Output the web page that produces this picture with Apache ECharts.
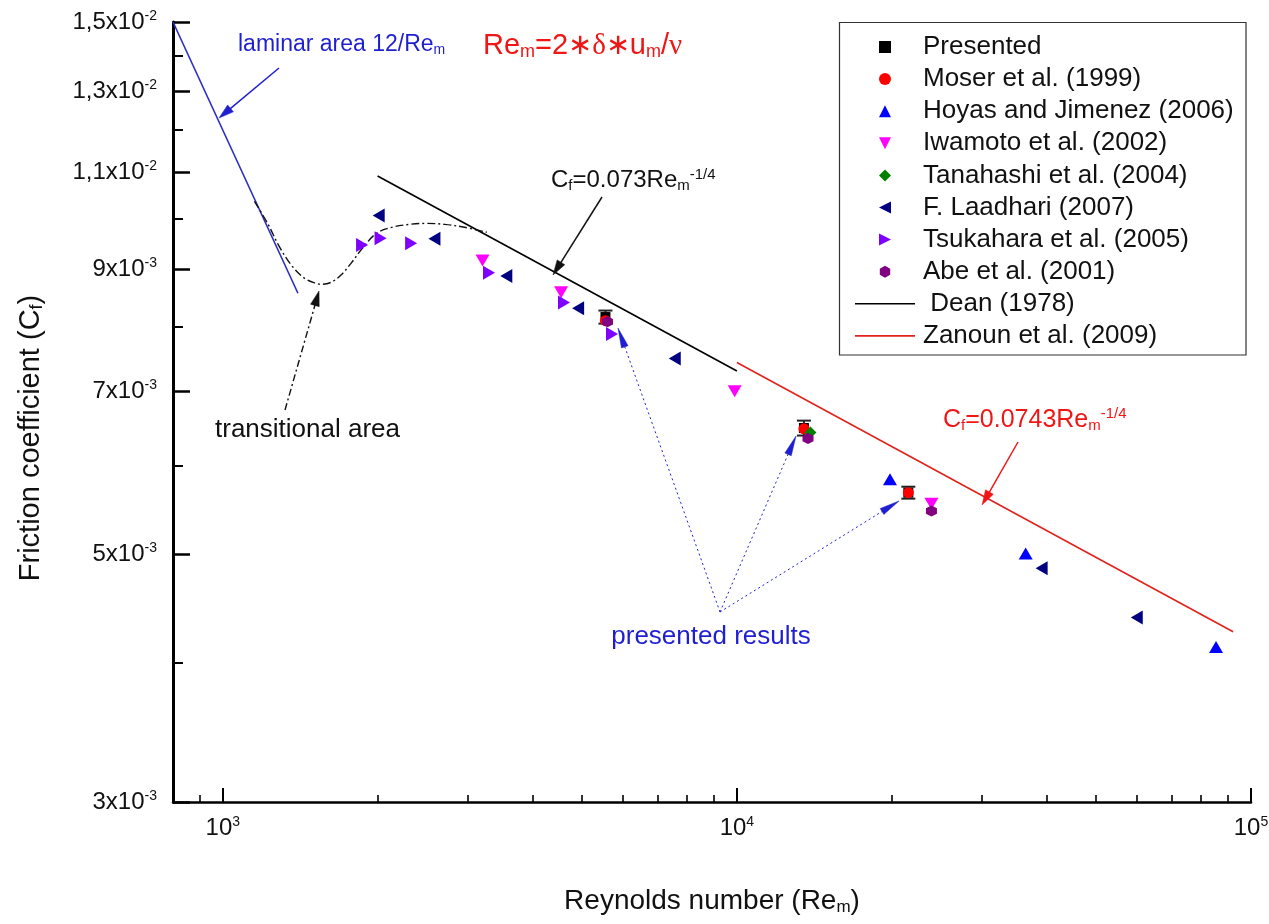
<!DOCTYPE html>
<html>
<head>
<meta charset="utf-8">
<script src="https://cdn.jsdelivr.net/npm/echarts@6/dist/echarts.min.js"></script>
<style>
  html, body { margin: 0; padding: 0; background: #fff; }
  #chart { width: 1269px; height: 924px; }
</style>
</head>
<body>
<div id="chart"></div>
<script>
// ---- Friction coefficient C_f versus bulk Reynolds number Re_m ----
const presentedRe  = [5550, 13500, 21550];
const presentedCf  = [0.00816, 0.00649, 0.00568];
const presentedErr = [0.00011, 0.00010, 0.00007];

const moserRe = [5550, 13500, 21550];
const moserCf = [0.00810, 0.00648, 0.00568];

const hoyasRe = [19850, 36450, 85500];
const hoyasCf = [0.00584, 0.00501, 0.00413];

const iwamotoRe = [3200, 4550, 9900, 23900];
const iwamotoCf = [0.00917, 0.00859, 0.00700, 0.00555];

const tanahashiRe = [13900];
const tanahashiCf = [0.00643];

const laadhariRe = [2010, 2580, 3560, 4910, 7570, 39150, 59950];
const laadhariCf = [0.01006, 0.00959, 0.00888, 0.00831, 0.00749, 0.00486, 0.00439];

const tsukaharaRe = [1866, 2027, 2324, 3294, 4610, 5715];
const tsukaharaCf = [0.00947, 0.00960, 0.00950, 0.00894, 0.00841, 0.00788];

const abeRe = [5600, 13750, 23900];
const abeCf = [0.00808, 0.00635, 0.00547];

// correlations: laminar 12/Re_m, Dean 0.073 Re_m^-1/4, Zanoun 0.0743 Re_m^-1/4
const laminarRe = [800, 1400];
const laminarCf = [0.015, 0.008571];
const deanRe = [2000, 10000];
const deanCf = [0.010916, 0.0073];
const zanounRe = [10000, 92300];
const zanounCf = [0.00743, 0.004263];

// transitional region sketch
const transRe = [1152, 1222, 1289, 1360, 1442, 1515, 1556, 1627, 1702, 1780, 1870, 1991, 2130, 2309, 2492, 2701, 2954, 3261];
const transCf = [0.01036, 0.00990, 0.00943, 0.00908, 0.00884, 0.00875, 0.00873, 0.00877, 0.00891, 0.00913, 0.00941, 0.00970, 0.00982, 0.00988, 0.00990, 0.00988, 0.00982, 0.00972];

// axis ticks and labels
const xMajorTicks = [1000, 10000, 100000];
const xTickExponent = ['3', '4', '5'];
const xMinorTicks = [900, 2000, 3000, 4000, 5000, 6000, 7000, 8000, 9000,
                     20000, 30000, 40000, 50000, 60000, 70000, 80000, 90000];
const yMajorTicks = [0.003, 0.005, 0.007, 0.009, 0.011, 0.013, 0.015];
const yTickMantissa = ['3', '5', '7', '9', '1,1', '1,3', '1,5'];
const yTickExponent = ['-3', '-3', '-3', '-3', '-2', '-2', '-2'];
const yMinorTicks = [0.004, 0.006, 0.008, 0.010, 0.012, 0.014];

const FONT = '"Liberation Sans", Arial, sans-serif';
const pts = (xs, ys) => xs.map((x, i) => [x, ys[i]]);
const nearest = (arr, v) => {
  let best = 0, d = Infinity;
  arr.forEach((t, i) => { const dd = Math.abs(Math.log(t) - Math.log(v)); if (dd < d) { d = dd; best = i; } });
  return best;
};

// rich-text styles: b = base, u = superscript, d = subscript
function richSet(B, S, P, color, extra) {
  const tok = (o) => Object.assign({ color: color, fill: color, fontFamily: FONT }, o);
  const r = {
    b: tok({ fontSize: B, lineHeight: B + 2, padding: [P, 0, P, 0] }),
    u: tok({ fontSize: S, lineHeight: S, verticalAlign: 'top' }),
    d: tok({ fontSize: S, lineHeight: S, verticalAlign: 'bottom' })
  };
  return Object.assign(r, extra || {});
}

// marker shapes
const SQUARE  = 'path://M0,0H10V10H0Z';
const TRI_UP  = 'path://M5,0L10,10L0,10Z';
const TRI_DN  = 'path://M0,0L10,0L5,10Z';
const TRI_LT  = 'path://M0,5L10,0L10,10Z';
const TRI_RT  = 'path://M0,0L10,5L0,10Z';
const DIAMOND = 'path://M5,0L10,5L5,10L0,5Z';
const HEXAGON = 'path://M50,0 L93.3,25 L93.3,75 L50,100 L6.7,75 L6.7,25 Z';
const LINE_ICON = 'path://M0,0H60V1.6H0Z';

const chart = echarts.init(document.getElementById('chart'), null, { renderer: 'canvas' });

const logAxisCommon = { type: 'log', logBase: 10, splitLine: { show: false } };

const scatter = (name, symbol, size, color, data) => ({
  name: name, type: 'scatter', z: 4, symbol: symbol, symbolSize: size,
  itemStyle: { color: color, opacity: 1 }, emphasis: { disabled: true }, data: data
});

const option = {
  animation: false,
  backgroundColor: '#fff',
  grid: { left: 173, right: 18, top: 22, bottom: 122, containLabel: false, outerBoundsMode: 'none' },
  xAxis: [
    Object.assign({}, logAxisCommon, {
      min: 800, max: 100000, position: 'bottom',
      axisLine: { show: true, lineStyle: { color: '#000', width: 2.5 } },
      axisTick: { show: true, inside: true, length: 14, customValues: xMajorTicks, lineStyle: { color: '#000', width: 2 } },
      axisLabel: {
        show: true, customValues: xMajorTicks, margin: 13,
        formatter: v => '{b|10}{u|' + xTickExponent[nearest(xMajorTicks, v)] + '}',
        rich: richSet(24, 14, 4, '#111')
      }
    }),
    Object.assign({}, logAxisCommon, {
      min: 800, max: 100000, position: 'bottom',
      axisLine: { show: false },
      axisTick: { show: true, inside: true, length: 7, customValues: xMinorTicks, lineStyle: { color: '#000', width: 1.6 } },
      axisLabel: { show: false }
    })
  ],
  yAxis: [
    Object.assign({}, logAxisCommon, {
      min: 0.003, max: 0.015, position: 'left',
      axisLine: { show: true, lineStyle: { color: '#000', width: 3 } },
      axisTick: { show: true, inside: true, length: 17, customValues: yMajorTicks, lineStyle: { color: '#000', width: 2.5 } },
      axisLabel: {
        show: true, customValues: yMajorTicks, margin: 16,
        formatter: v => { const i = nearest(yMajorTicks, v); return '{b|' + yTickMantissa[i] + 'x10}{u|' + yTickExponent[i] + '}'; },
        rich: richSet(24, 14, 4, '#111')
      }
    }),
    Object.assign({}, logAxisCommon, {
      min: 0.003, max: 0.015, position: 'left',
      axisLine: { show: false },
      axisTick: { show: true, inside: true, length: 10, customValues: yMinorTicks, lineStyle: { color: '#000', width: 2 } },
      axisLabel: { show: false }
    })
  ],
  legend: {
    orient: 'vertical', left: 855, top: 31, padding: 0,
    itemWidth: 60, itemHeight: 12, itemGap: 0.1,
    selectedMode: false, symbolKeepAspect: true,
    textStyle: { fontSize: 26, lineHeight: 32, color: '#111', fontFamily: FONT, padding: [0, 0, 0, 3] },
    formatter: name => name === 'Dean (1978)' ? ' ' + name : name,
    data: ['Presented', 'Moser et al. (1999)', 'Hoyas and Jimenez (2006)', 'Iwamoto et al. (2002)',
           'Tanahashi et al. (2004)', 'F. Laadhari (2007)', 'Tsukahara et al. (2005)', 'Abe et al. (2001)',
           { name: 'Dean (1978)', icon: LINE_ICON }, { name: 'Zanoun et al. (2009)', icon: LINE_ICON }]
  },
  series: [
    {
      name: 'Presented error', type: 'custom', z: 3,
      data: presentedRe.map((x, i) => [x, presentedCf[i] - presentedErr[i], presentedCf[i] + presentedErr[i]]),
      renderItem: (params, api) => {
        const lo = api.coord([api.value(0), api.value(1)]);
        const hi = api.coord([api.value(0), api.value(2)]);
        const h = 7;
        const st = { stroke: '#222', lineWidth: 2 };
        return { type: 'group', children: [
          { type: 'line', shape: { x1: lo[0], y1: lo[1], x2: hi[0], y2: hi[1] }, style: st },
          { type: 'line', shape: { x1: lo[0] - h, y1: lo[1], x2: lo[0] + h, y2: lo[1] }, style: st },
          { type: 'line', shape: { x1: hi[0] - h, y1: hi[1], x2: hi[0] + h, y2: hi[1] }, style: st }
        ] };
      }
    },
    scatter('Presented', SQUARE, 10, '#000', pts(presentedRe, presentedCf)),
    scatter('Moser et al. (1999)', 'circle', 11, '#ff0000', pts(moserRe, moserCf)),
    scatter('Hoyas and Jimenez (2006)', TRI_UP, [14, 12], '#0000ff', pts(hoyasRe, hoyasCf)),
    scatter('Iwamoto et al. (2002)', TRI_DN, [14, 12], '#ff00ff', pts(iwamotoRe, iwamotoCf)),
    scatter('Tanahashi et al. (2004)', DIAMOND, 12, '#008000', pts(tanahashiRe, tanahashiCf)),
    scatter('F. Laadhari (2007)', TRI_LT, [12, 14], '#000080', pts(laadhariRe, laadhariCf)),
    scatter('Tsukahara et al. (2005)', TRI_RT, [12, 14], '#8000ff', pts(tsukaharaRe, tsukaharaCf)),
    scatter('Abe et al. (2001)', HEXAGON, 11, '#800080', pts(abeRe, abeCf)),
    { name: 'Dean (1978)', type: 'line', z: 2, symbol: 'none', showSymbol: false,
      lineStyle: { color: '#000', width: 1.6 }, itemStyle: { color: '#000' }, data: pts(deanRe, deanCf) },
    { name: 'Zanoun et al. (2009)', type: 'line', z: 2, symbol: 'none', showSymbol: false,
      lineStyle: { color: '#e0231c', width: 1.6 }, itemStyle: { color: '#e0231c' }, data: pts(zanounRe, zanounCf) },
    { name: 'Laminar 12/Re', type: 'line', z: 2, symbol: 'none', showSymbol: false,
      lineStyle: { color: '#2c2cc4', width: 1.6 }, data: pts(laminarRe, laminarCf) },
    { name: 'Transition', type: 'line', z: 2, symbol: 'none', showSymbol: false, smooth: 0.35,
      lineStyle: { color: '#111', width: 1.4, type: [8, 3, 2, 3] }, data: pts(transRe, transCf) }
  ]
};
chart.setOption(option);

// ---- annotations (pixel layout) ----
function arrowHead(from, tip, len, halfW, color) {
  const dx = tip[0] - from[0], dy = tip[1] - from[1];
  const L = Math.hypot(dx, dy), ux = dx / L, uy = dy / L;
  const bx = tip[0] - ux * len, by = tip[1] - uy * len;
  return {
    type: 'polygon', z: 20, silent: true,
    shape: { points: [tip, [bx - uy * halfW, by + ux * halfW], [bx + uy * halfW, by - ux * halfW]] },
    style: { fill: color, stroke: color, lineWidth: 0.5 }
  };
}
function arrow(from, tip, color, width, dash, len, halfW) {
  const dx = tip[0] - from[0], dy = tip[1] - from[1];
  const L = Math.hypot(dx, dy);
  const end = [tip[0] - dx / L * len * 0.8, tip[1] - dy / L * len * 0.8];
  return [
    { type: 'line', z: 19, silent: true, shape: { x1: from[0], y1: from[1], x2: end[0], y2: end[1] },
      style: { stroke: color, lineWidth: width, lineDash: dash || null } },
    arrowHead(from, tip, len, halfW, color)
  ];
}
function label(x, y, text, rich, align) {
  return { type: 'text', z: 21, silent: true, x: x, y: y,
           style: { text: text, rich: rich, align: align || 'left', verticalAlign: 'middle' } };
}

const BLUE = '#1f1fd0';
const RED = '#f01616';
const BLACK = '#111';

const formulaRich = richSet(29, 18, 6, RED, {
  g: { fontSize: 29, lineHeight: 31, padding: [6, 0, 6, 0], fill: RED, color: RED,
       fontFamily: '"Liberation Serif", "DejaVu Serif", serif' }
});

const graphics = [
  // legend frame
  { type: 'rect', z: 1, silent: true, shape: { x: 839.5, y: 22.5, width: 406.5, height: 332.5 },
    style: { fill: 'none', stroke: '#333', lineWidth: 1.2 } },
  // axis titles
  { type: 'text', z: 21, silent: true, x: 31, y: 438, rotation: Math.PI / 2,
    style: { text: '{b|Friction coefficient (C}{d|f}{b|)}', rich: richSet(29, 18, 5, BLACK), align: 'center', verticalAlign: 'middle' } },
  label(712, 901, '{b|Reynolds number (Re}{d|m}{b|)}', richSet(28, 17, 5, BLACK), 'center'),
  // definition of the Reynolds number
  label(483, 46, '{b|Re}{d|m}{b|=2∗}{g|δ}{b|∗u}{d|m}{b|/}{g|ν}', formulaRich),
  // laminar annotation
  label(238, 45, '{b|laminar area 12/Re}{d|m}', richSet(23, 14, 5, BLUE)),
  ...arrow([279, 68], [219, 118], BLUE, 1.5, null, 15, 4.5),
  // transitional annotation
  label(215, 430, '{b|transitional area}', richSet(26, 14, 2, BLACK)),
  ...arrow([285, 410], [319, 291], BLACK, 1.4, [7, 3, 2, 3], 15, 4.5),
  // Dean correlation annotation
  label(551, 180, '{b|C}{d|f}{b|=0.073Re}{d|m}{u|-1/4}', richSet(24, 15, 5, BLACK)),
  ...arrow([602, 197], [553, 275], BLACK, 1.5, null, 15, 4.5),
  // Zanoun correlation annotation
  label(943, 420, '{b|C}{d|f}{b|=0.0743Re}{d|m}{u|-1/4}', richSet(25, 15, 5, RED)),
  ...arrow([1018, 442], [982, 505], RED, 1.5, null, 15, 4.5),
  // presented results pointers
  label(711, 637, '{b|presented results}', richSet(26, 14, 2, BLUE), 'center'),
  ...arrow([720, 612], [618, 328], BLUE, 1, [2, 3], 20, 3.5),
  ...arrow([720, 612], [796, 436], BLUE, 1, [2, 3], 20, 3.5),
  ...arrow([720, 612], [899, 501], BLUE, 1, [2, 3], 20, 3.5)
];
chart.setOption({ graphic: graphics });
</script>
</body>
</html>
